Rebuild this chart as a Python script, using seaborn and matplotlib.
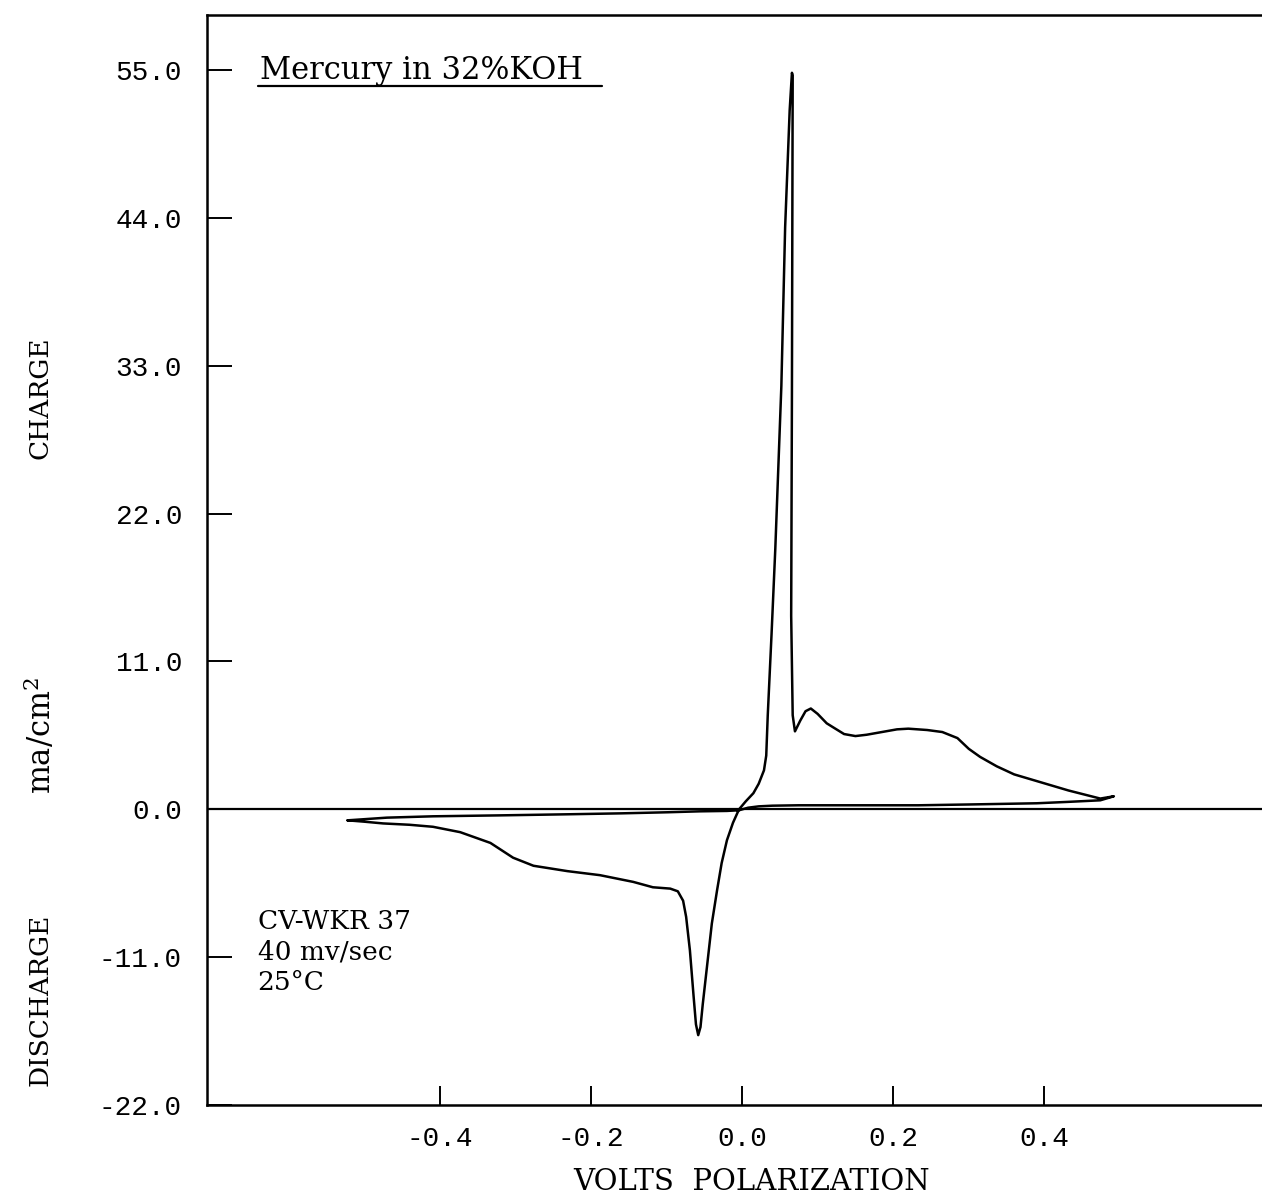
import numpy as np
import pandas as pd
import matplotlib
matplotlib.use("Agg")
import matplotlib.pyplot as plt
import seaborn as sns

############################################################
# DATA
############################################################

# one closed loop, in drawing order:
# lower (discharge) branch -> anodic spike -> humps -> right end -> flat return
volts = [
    -0.522, -0.500, -0.475, -0.440, -0.409, -0.373, -0.333, -0.303, -0.276,
    -0.231, -0.188, -0.144, -0.118, -0.095, -0.085, -0.078, -0.074, -0.069,
    -0.064, -0.061, -0.058, -0.055, -0.052, -0.046, -0.040, -0.033, -0.027,
    -0.020, -0.012, -0.004, 0.005, 0.015, 0.022, 0.029, 0.032, 0.034,
    0.039, 0.044, 0.052, 0.057, 0.063, 0.066, 0.067, 0.0665, 0.066,
    0.065, 0.067, 0.070, 0.077, 0.084, 0.091, 0.100, 0.112, 0.122,
    0.135, 0.150, 0.165, 0.185, 0.205, 0.220, 0.245, 0.265, 0.285,
    0.300, 0.315, 0.337, 0.360, 0.390, 0.432, 0.474, 0.492,
    0.474, 0.430, 0.390, 0.300, 0.233, 0.150, 0.075, 0.040, 0.022,
    0.008, -0.004, -0.020, -0.056, -0.099, -0.160, -0.231, -0.320,
    -0.409, -0.470, -0.522,
]

current = [
    -0.82, -0.92, -1.05, -1.15, -1.30, -1.70, -2.50, -3.60, -4.20,
    -4.60, -4.90, -5.40, -5.80, -5.90, -6.10, -6.80, -8.00, -10.5,
    -14.0, -16.0, -16.8, -16.2, -14.5, -11.5, -8.50, -6.00, -4.00,
    -2.30, -1.00, 0.00, 0.60, 1.20, 1.90, 2.90, 4.00, 7.00,
    13.0, 19.4, 31.5, 43.3, 52.0, 54.8, 54.6, 43.0, 31.0,
    14.4, 7.00, 5.80, 6.60, 7.30, 7.50, 7.10, 6.40, 6.05,
    5.60, 5.45, 5.55, 5.75, 5.95, 6.00, 5.90, 5.75, 5.30,
    4.50, 3.90, 3.20, 2.60, 2.10, 1.40, 0.80, 0.97,
    0.67, 0.55, 0.45, 0.36, 0.30, 0.30, 0.30, 0.27, 0.22,
    0.12, -0.07, -0.12, -0.15, -0.22, -0.30, -0.37, -0.45,
    -0.52, -0.62, -0.82,
]

x_ticks = [-0.4, -0.2, 0.0, 0.2, 0.4]
x_tick_labels = ["-0.4", "-0.2", "0.0", "0.2", "0.4"]
y_ticks = [-22.0, -11.0, 0.0, 11.0, 22.0, 33.0, 44.0, 55.0]
y_tick_labels = ["-22.0", "-11.0", "0.0", "11.0", "22.0", "33.0", "44.0", "55.0"]

df = pd.DataFrame({"volts": volts, "current": current})

############################################################
# STYLE
############################################################

sns.set_theme(style="ticks")
plt.rcParams.update({
    "font.family": ["DejaVu Serif"],
    "mathtext.fontset": "dejavuserif",
    "text.color": "black",
    "xtick.color": "black",
    "ytick.color": "black",
    "axes.edgecolor": "black",
})

fig = plt.figure(figsize=(12.62, 12.04), dpi=100)
ax = fig.add_axes([207 / 1262, 99 / 1204, 1055 / 1262, 1090 / 1204])

############################################################
# PLOT
############################################################

ax.axhline(0, color="black", lw=1.6, zorder=1)

sns.lineplot(
    data=df,
    x="volts",
    y="current",
    sort=False,
    estimator=None,
    color="black",
    lw=1.8,
    ax=ax,
)

ax.set_xlim(-0.708, 0.688)
ax.set_ylim(-22.0, 59.1)

ax.set_xticks(x_ticks)
ax.set_xticklabels(x_tick_labels, family="Liberation Mono", fontsize=20)
ax.set_yticks(y_ticks)
ax.set_yticklabels(y_tick_labels, family="Liberation Mono", fontsize=20)

ax.tick_params(axis="y", direction="in", length=18, width=1.4, pad=18)
ax.tick_params(axis="x", direction="in", length=14, width=1.4, pad=15)

ax.set_xlabel("")
ax.set_ylabel("")

for side in ["left", "bottom", "top"]:
    ax.spines[side].set_linewidth(1.8)
ax.spines["right"].set_visible(False)

############################################################
# TEXT
############################################################

ax.text(0.050, 0.9413, "Mercury in 32%KOH", transform=ax.transAxes,
        fontsize=22, ha="left", va="baseline")
ax.plot([0.048, 0.374], [0.9345, 0.9345], transform=ax.transAxes,
        color="black", lw=1.6, clip_on=False)

ax.text(0.048, 0.168, "CV-WKR 37", transform=ax.transAxes,
        fontsize=19, ha="left", va="center")
ax.text(0.048, 0.140, "40 mv/sec", transform=ax.transAxes,
        fontsize=19, ha="left", va="center")
ax.text(0.048, 0.112, "25°C", transform=ax.transAxes,
        fontsize=19, ha="left", va="center")

fig.text(40 / 1262, 1 - 398 / 1204, "CHARGE", rotation=90,
         fontsize=19, ha="center", va="center")
fig.text(40 / 1262, 1 - 735 / 1204, "ma/cm$^{2}$", rotation=90,
         fontsize=22, ha="center", va="center")
fig.text(40 / 1262, 1 - 1000 / 1204, "DISCHARGE", rotation=90,
         fontsize=19, ha="center", va="center")

fig.text(752 / 1262, 1 - 1182 / 1204, "VOLTS  POLARIZATION",
         fontsize=21, ha="center", va="center")

plt.savefig("out.png", dpi=100)
